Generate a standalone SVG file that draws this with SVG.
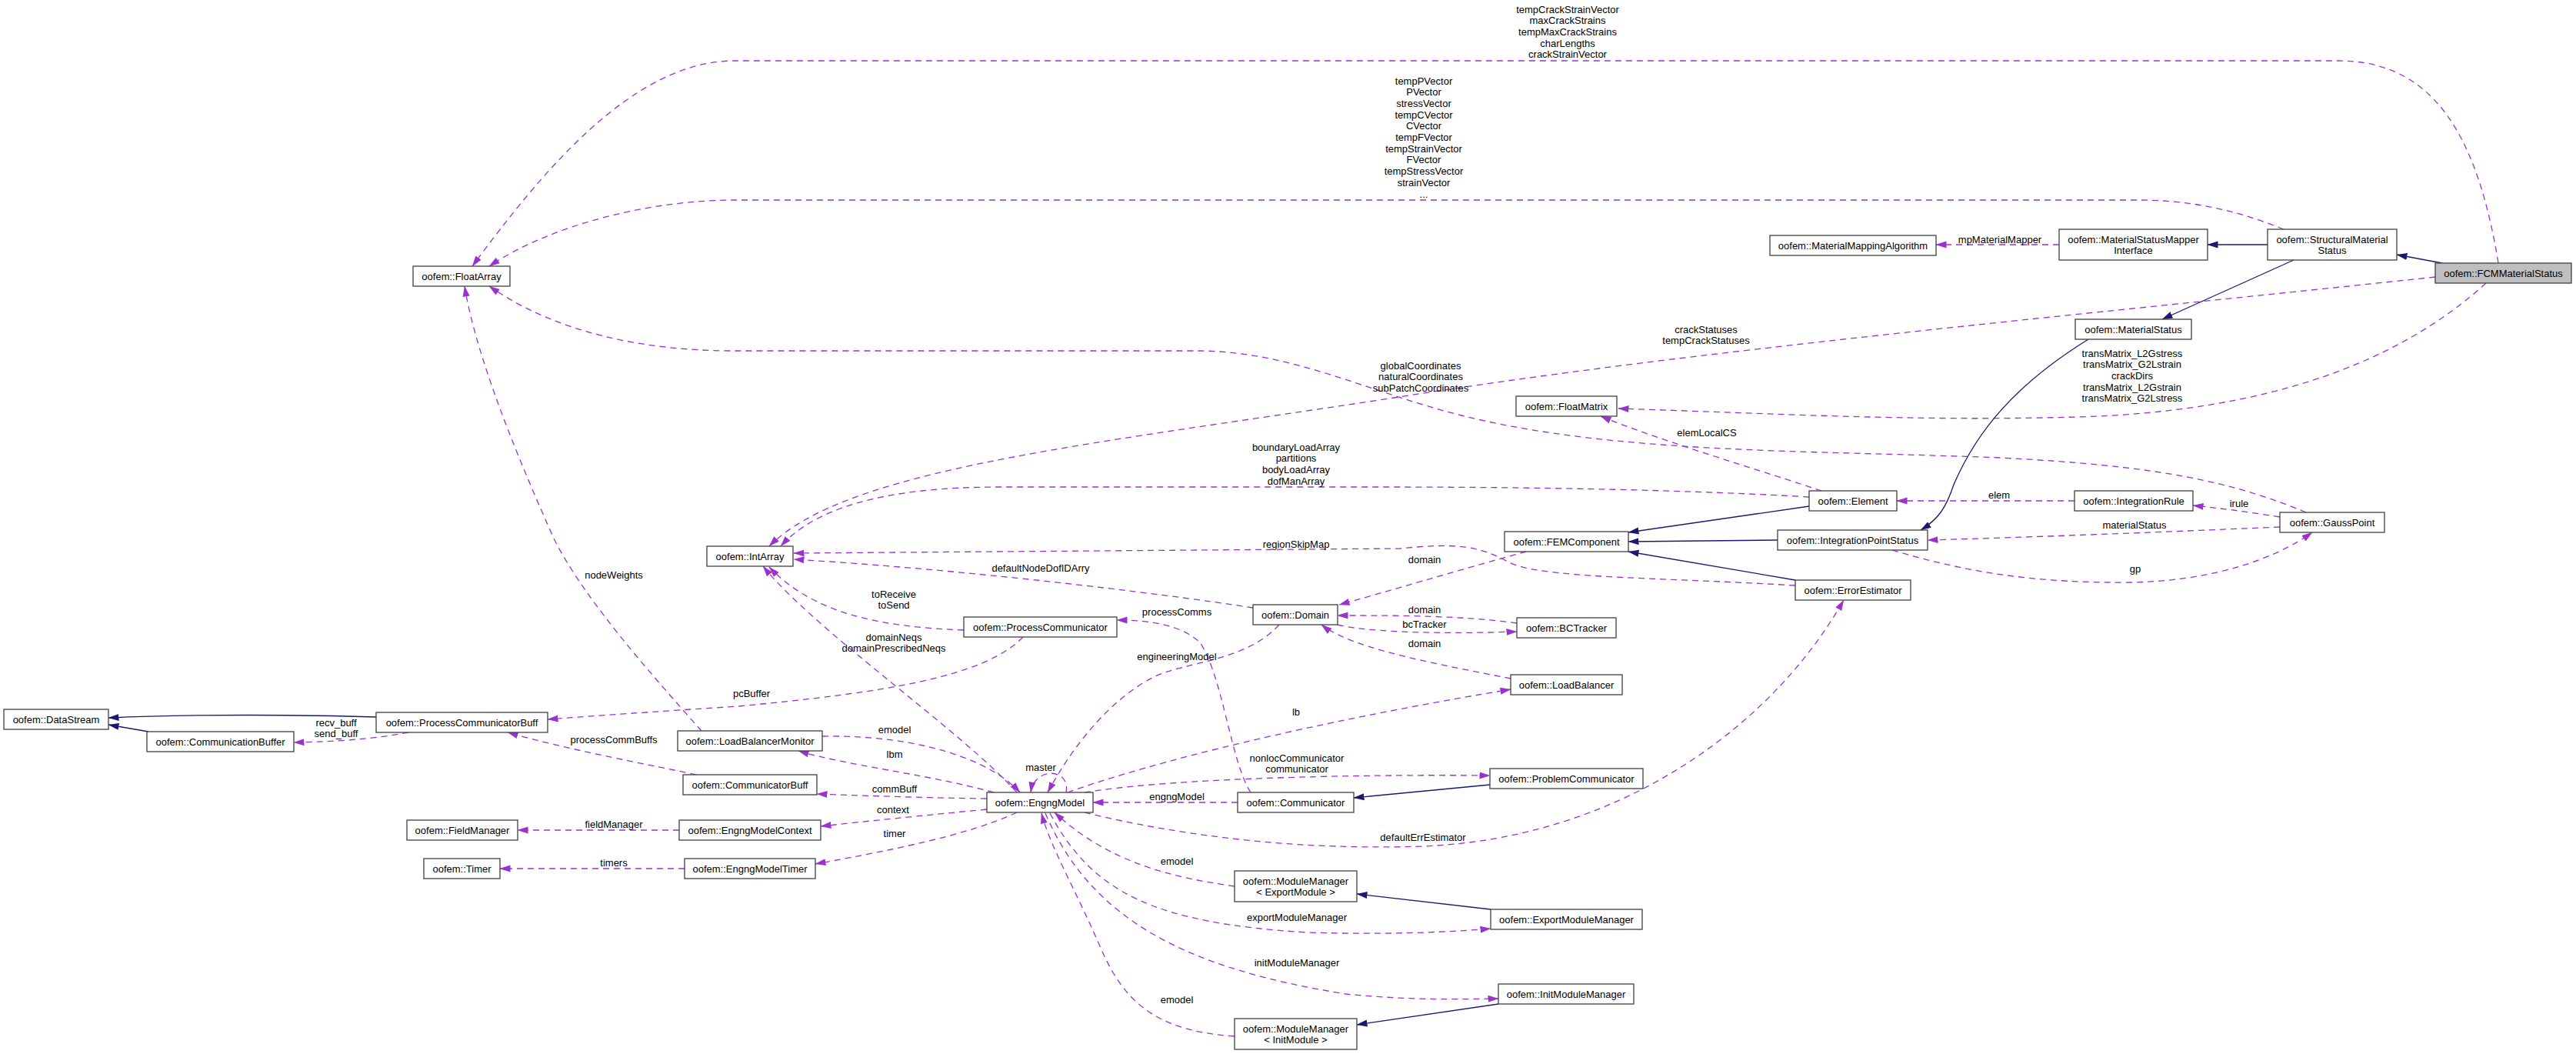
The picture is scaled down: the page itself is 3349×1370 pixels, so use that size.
<svg xmlns="http://www.w3.org/2000/svg" width="3349" height="1370" viewBox="0 0 3349 1370">
<style>
text{font-family:"Liberation Sans",Arial,Helvetica,sans-serif;font-size:13px;fill:#000;text-anchor:middle}
.n rect{fill:#fff;stroke:#404040;stroke-width:1.3}
.root rect{fill:#bfbfbf}
.u{fill:none;stroke:#9a32cd;stroke-width:1.3;stroke-dasharray:8,6;marker-end:url(#ap)}
.i{fill:none;stroke:#191970;stroke-width:1.3;marker-end:url(#an)}
</style>
<defs>
<marker id="ap" markerUnits="userSpaceOnUse" viewBox="0 0 14 10" markerWidth="14" markerHeight="10" refX="13.5" refY="5" orient="auto"><path d="M0,0.5 L14,5 L0,9.5 z" fill="#9a32cd"/></marker>
<marker id="an" markerUnits="userSpaceOnUse" viewBox="0 0 14 10" markerWidth="14" markerHeight="10" refX="13.5" refY="5" orient="auto"><path d="M0,0.5 L14,5 L0,9.5 z" fill="#191970"/></marker>
</defs>
<rect width="3349" height="1370" fill="#fff"/>
<g id="connectors">
<path class="u" d="M3248,342 C3220,170 3160,79 3040,79 L955,79 C820,79 700,230 614,346"/>
<path class="u" d="M2969,298 C2900,270 2840,260 2780,260 L955,260 C850,260 720,290 636,346"/>
<path class="u" d="M3166,360 C2700,410 2200,455 1806,518 C1400,580 1100,610 1000,710"/>
<path class="u" d="M3232,368 C3120,470 2950,535 2700,542 C2480,548 2300,537 2104,531"/>
<path class="u" d="M2677,318 L2517,318"/>
<path class="u" d="M2998,666 C2900,625 2800,605 2600,595 C2350,585 2100,590 1900,540 C1780,510 1680,457 1560,456 L955,456 C830,456 720,430 636,372"/>
<path class="u" d="M2368,638 C2300,615 2150,570 2081,541"/>
<path class="u" d="M2352,646 C2200,637 2000,633 1800,633 L1300,633 C1150,633 1060,660 1015,710"/>
<path class="u" d="M2334,761 C2150,750 2000,752 1960,730 C1920,708 1890,706 1820,713 L1032,719"/>
<path class="u" d="M1984,717 C1900,740 1800,770 1741,786"/>
<path class="u" d="M1629,790 C1500,770 1250,740 1032,727"/>
<path class="u" d="M1253,819 C1150,815 1060,800 1000,737"/>
<path class="u" d="M1322,1030 C1250,950 1060,820 992,736"/>
<path class="u" d="M1330,828 C1280,880 1150,900 960,918 C850,925 780,930 712,935"/>
<path class="u" d="M1626,1030 C1600,990 1590,880 1560,835 C1535,812 1495,806 1452,806"/>
<path class="u" d="M1663,812 C1620,860 1540,860 1500,880 C1450,905 1400,960 1362,1030"/>
<path class="u" d="M1972,810 C1900,800 1820,800 1739,800"/>
<path class="u" d="M1739,812 C1770,820 1850,825 1972,821"/>
<path class="u" d="M1964,882 C1880,865 1760,845 1718,812"/>
<path class="u" d="M1388,1030 C1500,990 1700,940 1964,896"/>
<path class="u" d="M1069,957 C1200,955 1290,990 1326,1030"/>
<path class="u" d="M1292,1030 C1200,1005 1100,995 1038,976"/>
<path class="u" d="M1386,1030 C1392,998 1345,996 1340,1030"/>
<path class="u" d="M1283,1038 C1200,1037 1120,1034 1062,1032"/>
<path class="u" d="M1283,1052 C1200,1060 1130,1067 1067,1074"/>
<path class="u" d="M1322,1056 C1260,1085 1160,1105 1060,1123"/>
<path class="u" d="M1609,1043 L1421,1043"/>
<path class="u" d="M1410,1030 C1500,1015 1700,1006 1937,1008"/>
<path class="u" d="M1410,1056 C1550,1090 1700,1105 1850,1100 C2100,1090 2300,950 2397,780"/>
<path class="u" d="M1605,1152 C1520,1140 1440,1120 1371,1056"/>
<path class="u" d="M1365,1057 C1420,1160 1500,1200 1700,1212 C1800,1215 1880,1212 1938,1207"/>
<path class="u" d="M1359,1057 C1420,1200 1550,1260 1750,1292 C1830,1300 1890,1299 1948,1298"/>
<path class="u" d="M1605,1347 C1500,1340 1460,1300 1430,1230 C1400,1160 1365,1100 1354,1057"/>
<path class="u" d="M2697,651 L2466,651"/>
<path class="u" d="M2964,672 C2920,665 2890,661 2851,657"/>
<path class="u" d="M2964,685 C2800,692 2650,698 2506,702"/>
<path class="u" d="M2460,715 C2560,745 2650,758 2770,757 C2880,755 2960,725 3006,692"/>
<path class="u" d="M912,950 C850,880 760,780 720,700 C680,610 620,470 604,372"/>
<path class="u" d="M531,952 C490,960 440,964 382,965"/>
<path class="u" d="M905,1007 C850,995 740,975 660,952"/>
<path class="u" d="M883,1079 L673,1079"/>
<path class="u" d="M890,1129 L650,1129"/>
<path class="i" d="M3175,342 L3116,331"/>
<path class="i" d="M2948,318 L2870,318"/>
<path class="i" d="M2982,338 L2811,415"/>
<path class="i" d="M2715,441 C2620,500 2570,560 2540,630 C2530,660 2520,675 2497,689"/>
<path class="i" d="M2352,658 L2117,692"/>
<path class="i" d="M2311,702 L2117,704"/>
<path class="i" d="M2334,754 L2117,717"/>
<path class="i" d="M489,932 C400,929 250,928 141,933"/>
<path class="i" d="M193,951 L141,942"/>
<path class="i" d="M1937,1020 L1760,1037"/>
<path class="i" d="M1938,1182 L1764,1162"/>
<path class="i" d="M1948,1305 L1764,1332"/>
</g>
<g id="edge-labels">
<text x="2038" y="16.5">tempCrackStrainVector</text>
<text x="2038" y="31.2">maxCrackStrains</text>
<text x="2038" y="45.9">tempMaxCrackStrains</text>
<text x="2038" y="60.6">charLengths</text>
<text x="2038" y="75.3">crackStrainVector</text>
<text x="1851" y="109.5">tempPVector</text>
<text x="1851" y="124.2">PVector</text>
<text x="1851" y="138.9">stressVector</text>
<text x="1851" y="153.6">tempCVector</text>
<text x="1851" y="168.3">CVector</text>
<text x="1851" y="183">tempFVector</text>
<text x="1851" y="197.7">tempStrainVector</text>
<text x="1851" y="212.4">FVector</text>
<text x="1851" y="227.1">tempStressVector</text>
<text x="1851" y="241.8">strainVector</text>
<text x="1851" y="256.5">...</text>
<text x="2600" y="315.5">mpMaterialMapper</text>
<text x="2218" y="432.5">crackStatuses</text>
<text x="2218" y="447.2">tempCrackStatuses</text>
<text x="2772" y="463.5">transMatrix_L2Gstress</text>
<text x="2772" y="478.2">transMatrix_G2Lstrain</text>
<text x="2772" y="492.9">crackDirs</text>
<text x="2772" y="507.6">transMatrix_L2Gstrain</text>
<text x="2772" y="522.3">transMatrix_G2Lstress</text>
<text x="1847" y="479.5">globalCoordinates</text>
<text x="1847" y="494.2">naturalCoordinates</text>
<text x="1847" y="508.9">subPatchCoordinates</text>
<text x="2219" y="566.5">elemLocalCS</text>
<text x="1685" y="585.5">boundaryLoadArray</text>
<text x="1685" y="600.2">partitions</text>
<text x="1685" y="614.9">bodyLoadArray</text>
<text x="1685" y="629.6">dofManArray</text>
<text x="1685" y="711.5">regionSkipMap</text>
<text x="1353" y="742.5">defaultNodeDofIDArry</text>
<text x="1852" y="731.5">domain</text>
<text x="2599" y="647.5">elem</text>
<text x="2911" y="658.5">irule</text>
<text x="2775" y="686.5">materialStatus</text>
<text x="2776" y="743.5">gp</text>
<text x="1162" y="776.5">toReceive</text>
<text x="1162" y="791.2">toSend</text>
<text x="1530" y="799.5">processComms</text>
<text x="1852" y="796.5">domain</text>
<text x="1852" y="815.5">bcTracker</text>
<text x="1852" y="840.5">domain</text>
<text x="1162" y="832.5">domainNeqs</text>
<text x="1162" y="847.2">domainPrescribedNeqs</text>
<text x="1530" y="857.5">engineeringModel</text>
<text x="977" y="905.5">pcBuffer</text>
<text x="798" y="751.5">nodeWeights</text>
<text x="1685" y="929.5">lb</text>
<text x="437" y="943.5">recv_buff</text>
<text x="437" y="958.2">send_buff</text>
<text x="1163" y="952.5">emodel</text>
<text x="798" y="965.5">processCommBuffs</text>
<text x="1163" y="984.5">lbm</text>
<text x="1686" y="989.5">nonlocCommunicator</text>
<text x="1686" y="1004.2">communicator</text>
<text x="1353" y="1001.5">master</text>
<text x="1163" y="1029.5">commBuff</text>
<text x="1530" y="1039.5">engngModel</text>
<text x="1161" y="1056.5">context</text>
<text x="798" y="1075.5">fieldManager</text>
<text x="1163" y="1087.5">timer</text>
<text x="1850" y="1092.5">defaultErrEstimator</text>
<text x="798" y="1125.5">timers</text>
<text x="1530" y="1123.5">emodel</text>
<text x="1686" y="1196.5">exportModuleManager</text>
<text x="1686" y="1255.5">initModuleManager</text>
<text x="1530" y="1303.5">emodel</text>
</g>
<g id="n-FCMMaterialStatus" class="n root"><rect x="3166" y="342" width="177" height="26"/><text x="3254.5" y="359.5">oofem::FCMMaterialStatus</text></g>
<g id="n-StructuralMaterialStatus" class="n"><rect x="2948" y="298" width="168" height="40"/><text x="3032" y="315.5">oofem::StructuralMaterial</text><text x="3032" y="330">Status</text></g>
<g id="n-MaterialStatusMapperInterface" class="n"><rect x="2677" y="298" width="193" height="40"/><text x="2773.5" y="315.5">oofem::MaterialStatusMapper</text><text x="2773.5" y="330">Interface</text></g>
<g id="n-MaterialMappingAlgorithm" class="n"><rect x="2301" y="306" width="216" height="26"/><text x="2409" y="323.5">oofem::MaterialMappingAlgorithm</text></g>
<g id="n-MaterialStatus" class="n"><rect x="2698" y="415" width="151" height="26"/><text x="2773.5" y="432.5">oofem::MaterialStatus</text></g>
<g id="n-FloatArray" class="n"><rect x="537" y="346" width="126" height="26"/><text x="600" y="363.5">oofem::FloatArray</text></g>
<g id="n-FloatMatrix" class="n"><rect x="1971" y="515" width="131" height="26"/><text x="2036.5" y="532.5">oofem::FloatMatrix</text></g>
<g id="n-IntArray" class="n"><rect x="919" y="710" width="112" height="26"/><text x="975" y="727.5">oofem::IntArray</text></g>
<g id="n-Element" class="n"><rect x="2352" y="638" width="114" height="26"/><text x="2409" y="655.5">oofem::Element</text></g>
<g id="n-IntegrationRule" class="n"><rect x="2697" y="638" width="154" height="26"/><text x="2774" y="655.5">oofem::IntegrationRule</text></g>
<g id="n-GaussPoint" class="n"><rect x="2964" y="666" width="136" height="26"/><text x="3032" y="683.5">oofem::GaussPoint</text></g>
<g id="n-FEMComponent" class="n"><rect x="1956" y="691" width="161" height="26"/><text x="2036.5" y="708.5">oofem::FEMComponent</text></g>
<g id="n-IntegrationPointStatus" class="n"><rect x="2311" y="689" width="195" height="26"/><text x="2408.5" y="706.5">oofem::IntegrationPointStatus</text></g>
<g id="n-ErrorEstimator" class="n"><rect x="2334" y="754" width="150" height="26"/><text x="2409" y="771.5">oofem::ErrorEstimator</text></g>
<g id="n-Domain" class="n"><rect x="1629" y="786" width="110" height="26"/><text x="1684" y="803.5">oofem::Domain</text></g>
<g id="n-BCTracker" class="n"><rect x="1972" y="803" width="129" height="26"/><text x="2036.5" y="820.5">oofem::BCTracker</text></g>
<g id="n-ProcessCommunicator" class="n"><rect x="1253" y="802" width="199" height="26"/><text x="1352.5" y="819.5">oofem::ProcessCommunicator</text></g>
<g id="n-LoadBalancer" class="n"><rect x="1964" y="877" width="145" height="26"/><text x="2036.5" y="894.5">oofem::LoadBalancer</text></g>
<g id="n-DataStream" class="n"><rect x="5" y="922" width="136" height="26"/><text x="73" y="939.5">oofem::DataStream</text></g>
<g id="n-ProcessCommunicatorBuff" class="n"><rect x="489" y="926" width="223" height="26"/><text x="600.5" y="943.5">oofem::ProcessCommunicatorBuff</text></g>
<g id="n-CommunicationBuffer" class="n"><rect x="191" y="951" width="191" height="26"/><text x="286.5" y="968.5">oofem::CommunicationBuffer</text></g>
<g id="n-LoadBalancerMonitor" class="n"><rect x="881" y="950" width="188" height="26"/><text x="975" y="967.5">oofem::LoadBalancerMonitor</text></g>
<g id="n-CommunicatorBuff" class="n"><rect x="888" y="1007" width="174" height="26"/><text x="975" y="1024.5">oofem::CommunicatorBuff</text></g>
<g id="n-EngngModel" class="n"><rect x="1283" y="1030" width="138" height="26"/><text x="1352" y="1047.5">oofem::EngngModel</text></g>
<g id="n-Communicator" class="n"><rect x="1609" y="1030" width="151" height="26"/><text x="1684.5" y="1047.5">oofem::Communicator</text></g>
<g id="n-ProblemCommunicator" class="n"><rect x="1937" y="999" width="199" height="26"/><text x="2036.5" y="1016.5">oofem::ProblemCommunicator</text></g>
<g id="n-EngngModelContext" class="n"><rect x="883" y="1066" width="184" height="26"/><text x="975" y="1083.5">oofem::EngngModelContext</text></g>
<g id="n-FieldManager" class="n"><rect x="529" y="1066" width="144" height="26"/><text x="601" y="1083.5">oofem::FieldManager</text></g>
<g id="n-EngngModelTimer" class="n"><rect x="890" y="1116" width="170" height="26"/><text x="975" y="1133.5">oofem::EngngModelTimer</text></g>
<g id="n-Timer" class="n"><rect x="551" y="1116" width="99" height="26"/><text x="600.5" y="1133.5">oofem::Timer</text></g>
<g id="n-ModuleManagerExport" class="n"><rect x="1605" y="1132" width="159" height="40"/><text x="1684.5" y="1149.5">oofem::ModuleManager</text><text x="1684.5" y="1164">&lt; ExportModule &gt;</text></g>
<g id="n-ExportModuleManager" class="n"><rect x="1938" y="1182" width="197" height="26"/><text x="2036.5" y="1199.5">oofem::ExportModuleManager</text></g>
<g id="n-InitModuleManager" class="n"><rect x="1948" y="1279" width="176" height="26"/><text x="2036" y="1296.5">oofem::InitModuleManager</text></g>
<g id="n-ModuleManagerInit" class="n"><rect x="1605" y="1324" width="159" height="40"/><text x="1684.5" y="1341.5">oofem::ModuleManager</text><text x="1684.5" y="1356">&lt; InitModule &gt;</text></g>
</svg>
